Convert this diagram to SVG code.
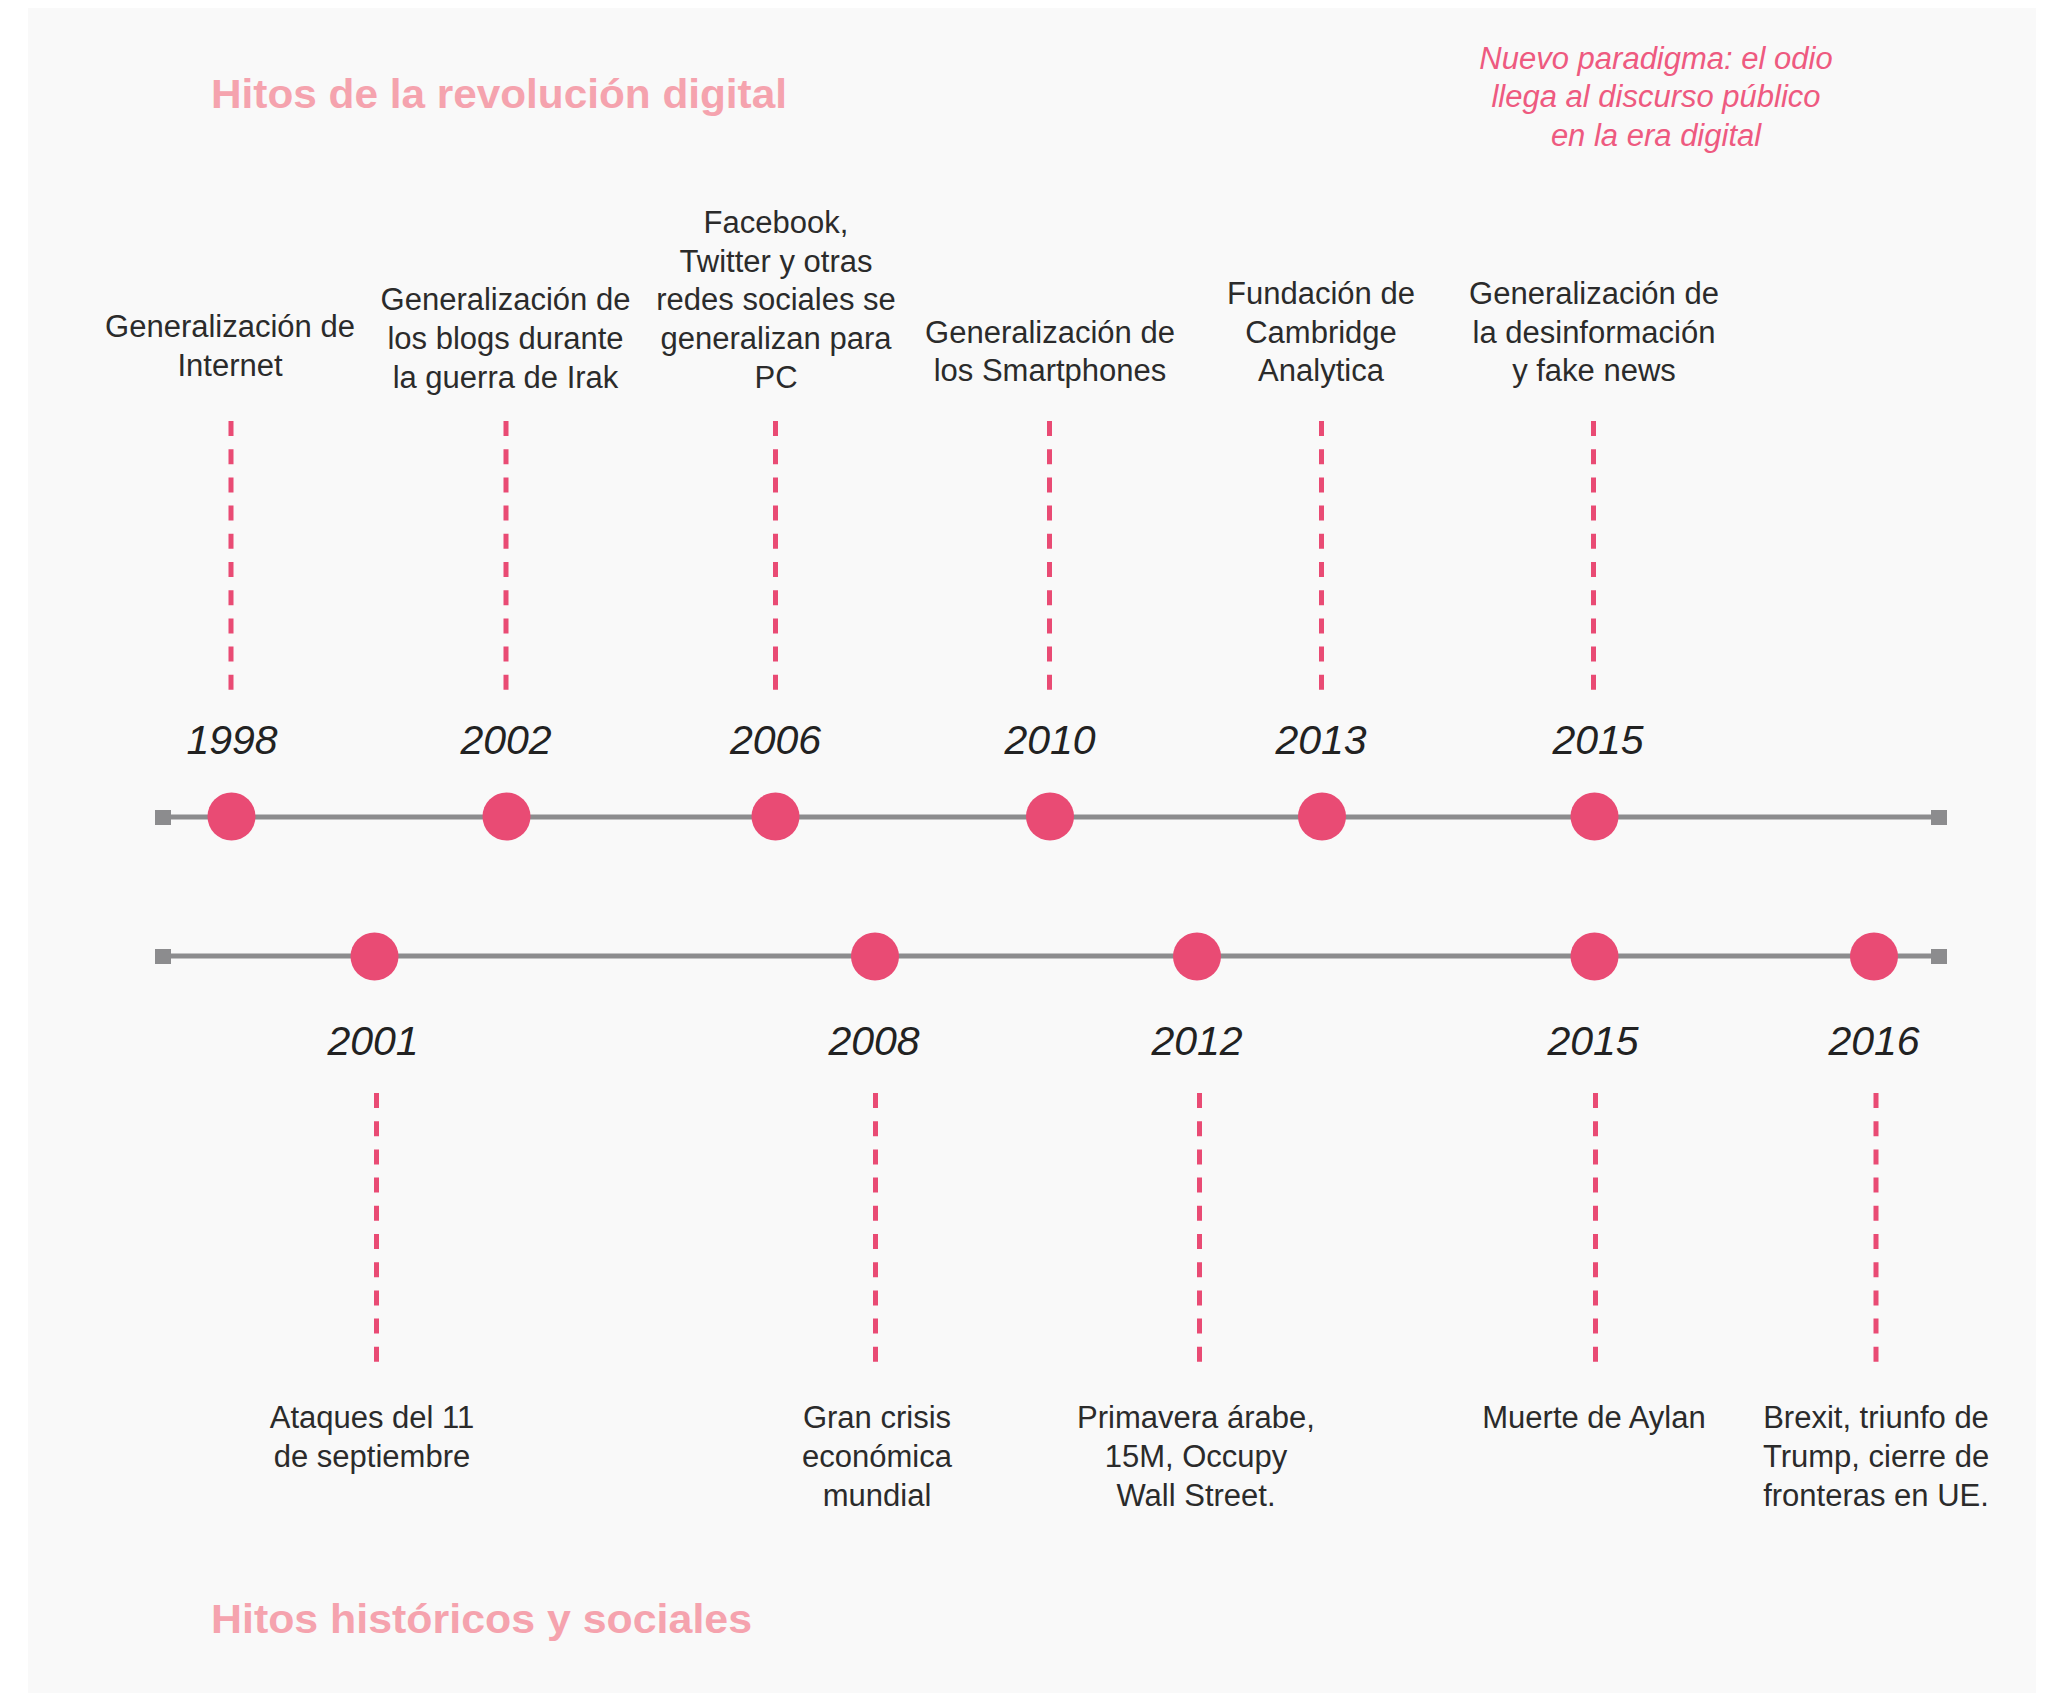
<svg xmlns="http://www.w3.org/2000/svg" width="2064" height="1697" viewBox="0 0 2064 1697">
  <style>
    .title { font-family: "Liberation Sans", Arial, sans-serif; font-weight: bold; font-size: 41px; fill: #f5a3ae; }
    .note { font-family: "Liberation Sans", Arial, sans-serif; font-style: italic; font-size: 31px; fill: #ee5a80; text-anchor: middle; }
    .lbl { font-family: "Liberation Sans", Arial, sans-serif; font-size: 31px; fill: #2b2b2b; text-anchor: middle; }
    .year { font-family: "Liberation Sans", Arial, sans-serif; font-style: italic; font-size: 41px; fill: #222222; text-anchor: middle; }
    .dot { fill: #e94b74; }
    .axis { stroke: #8c8c8e; stroke-width: 5; fill: none; }
    .cap { fill: #8c8c8e; }
    .dash { stroke: #e94b74; stroke-width: 5; stroke-dasharray: 15 13.2; fill: none; }
  </style>
  <rect x="0" y="0" width="2064" height="1697" fill="#ffffff"/>
  <rect id="panel" x="28" y="8" width="2008" height="1685" fill="#f9f9f9"/>

  <text id="title-digital" class="title" x="211" y="108" textLength="576" lengthAdjust="spacingAndGlyphs">Hitos de la revolución digital</text>
  <text id="title-social" class="title" x="211" y="1633" textLength="541" lengthAdjust="spacingAndGlyphs">Hitos históricos y sociales</text>

  <g id="note">
    <text class="note" x="1656" y="69">Nuevo paradigma: el odio</text>
    <text class="note" x="1656" y="107">llega al discurso público</text>
    <text class="note" x="1656" y="146">en la era digital</text>
  </g>

  <g id="connectors">
    <line class="axis" x1="163" y1="817" x2="1939" y2="817"/>
    <rect class="cap" x="155" y="810" width="16" height="15"/>
    <rect class="cap" x="1931" y="810" width="16" height="15"/>
    <line class="axis" x1="163" y1="956" x2="1939" y2="956"/>
    <rect class="cap" x="155" y="949" width="16" height="15"/>
    <rect class="cap" x="1931" y="949" width="16" height="15"/>
    <line class="dash" x1="231" y1="421" x2="231" y2="690"/>
    <line class="dash" x1="506" y1="421" x2="506" y2="690"/>
    <line class="dash" x1="775.5" y1="421" x2="775.5" y2="690"/>
    <line class="dash" x1="1049.5" y1="421" x2="1049.5" y2="690"/>
    <line class="dash" x1="1321.5" y1="421" x2="1321.5" y2="690"/>
    <line class="dash" x1="1593.5" y1="421" x2="1593.5" y2="690"/>
    <line class="dash" x1="376.5" y1="1093" x2="376.5" y2="1362"/>
    <line class="dash" x1="875.5" y1="1093" x2="875.5" y2="1362"/>
    <line class="dash" x1="1199.5" y1="1093" x2="1199.5" y2="1362"/>
    <line class="dash" x1="1595.5" y1="1093" x2="1595.5" y2="1362"/>
    <line class="dash" x1="1876" y1="1093" x2="1876" y2="1362"/>
  </g>

  <g id="e1998">
    <circle class="dot" cx="231.5" cy="816.5" r="24"/>
    <text class="year" x="232" y="754">1998</text>
    <text class="lbl" x="230" y="337">Generalización de</text>
    <text class="lbl" x="230" y="376">Internet</text>
  </g>
  <g id="e2002">
    <circle class="dot" cx="506.5" cy="816.5" r="24"/>
    <text class="year" x="506" y="754">2002</text>
    <text class="lbl" x="505.5" y="310">Generalización de</text>
    <text class="lbl" x="505.5" y="349">los blogs durante</text>
    <text class="lbl" x="505.5" y="388">la guerra de Irak</text>
  </g>
  <g id="e2006">
    <circle class="dot" cx="775.5" cy="816.5" r="24"/>
    <text class="year" x="775.5" y="754">2006</text>
    <text class="lbl" x="776" y="233">Facebook,</text>
    <text class="lbl" x="776" y="272">Twitter y otras</text>
    <text class="lbl" x="776" y="310">redes sociales se</text>
    <text class="lbl" x="776" y="349">generalizan para</text>
    <text class="lbl" x="776" y="388">PC</text>
  </g>
  <g id="e2010">
    <circle class="dot" cx="1050" cy="816.5" r="24"/>
    <text class="year" x="1050" y="754">2010</text>
    <text class="lbl" x="1050" y="343">Generalización de</text>
    <text class="lbl" x="1050" y="381">los Smartphones</text>
  </g>
  <g id="e2013">
    <circle class="dot" cx="1322" cy="816.5" r="24"/>
    <text class="year" x="1321" y="754">2013</text>
    <text class="lbl" x="1321" y="304">Fundación de</text>
    <text class="lbl" x="1321" y="343">Cambridge</text>
    <text class="lbl" x="1321" y="381">Analytica</text>
  </g>
  <g id="e2015a">
    <circle class="dot" cx="1594.5" cy="816.5" r="24"/>
    <text class="year" x="1598" y="754">2015</text>
    <text class="lbl" x="1594" y="304">Generalización de</text>
    <text class="lbl" x="1594" y="343">la desinformación</text>
    <text class="lbl" x="1594" y="381">y fake news</text>
  </g>

  <g id="e2001">
    <circle class="dot" cx="374.5" cy="956.5" r="24"/>
    <text class="year" x="373" y="1055">2001</text>
    <text class="lbl" x="372" y="1428">Ataques del 11</text>
    <text class="lbl" x="372" y="1467">de septiembre</text>
  </g>
  <g id="e2008">
    <circle class="dot" cx="875" cy="956.5" r="24"/>
    <text class="year" x="874" y="1055">2008</text>
    <text class="lbl" x="877" y="1428">Gran crisis</text>
    <text class="lbl" x="877" y="1467">económica</text>
    <text class="lbl" x="877" y="1506">mundial</text>
  </g>
  <g id="e2012">
    <circle class="dot" cx="1197" cy="956.5" r="24"/>
    <text class="year" x="1197" y="1055">2012</text>
    <text class="lbl" x="1196" y="1428">Primavera árabe,</text>
    <text class="lbl" x="1196" y="1467">15M, Occupy</text>
    <text class="lbl" x="1196" y="1506">Wall Street.</text>
  </g>
  <g id="e2015b">
    <circle class="dot" cx="1594.5" cy="956.5" r="24"/>
    <text class="year" x="1593" y="1055">2015</text>
    <text class="lbl" x="1594" y="1428">Muerte de Aylan</text>
  </g>
  <g id="e2016">
    <circle class="dot" cx="1874" cy="956.5" r="24"/>
    <text class="year" x="1874" y="1055">2016</text>
    <text class="lbl" x="1876" y="1428">Brexit, triunfo de</text>
    <text class="lbl" x="1876" y="1467">Trump, cierre de</text>
    <text class="lbl" x="1876" y="1506">fronteras en UE.</text>
  </g>
</svg>
